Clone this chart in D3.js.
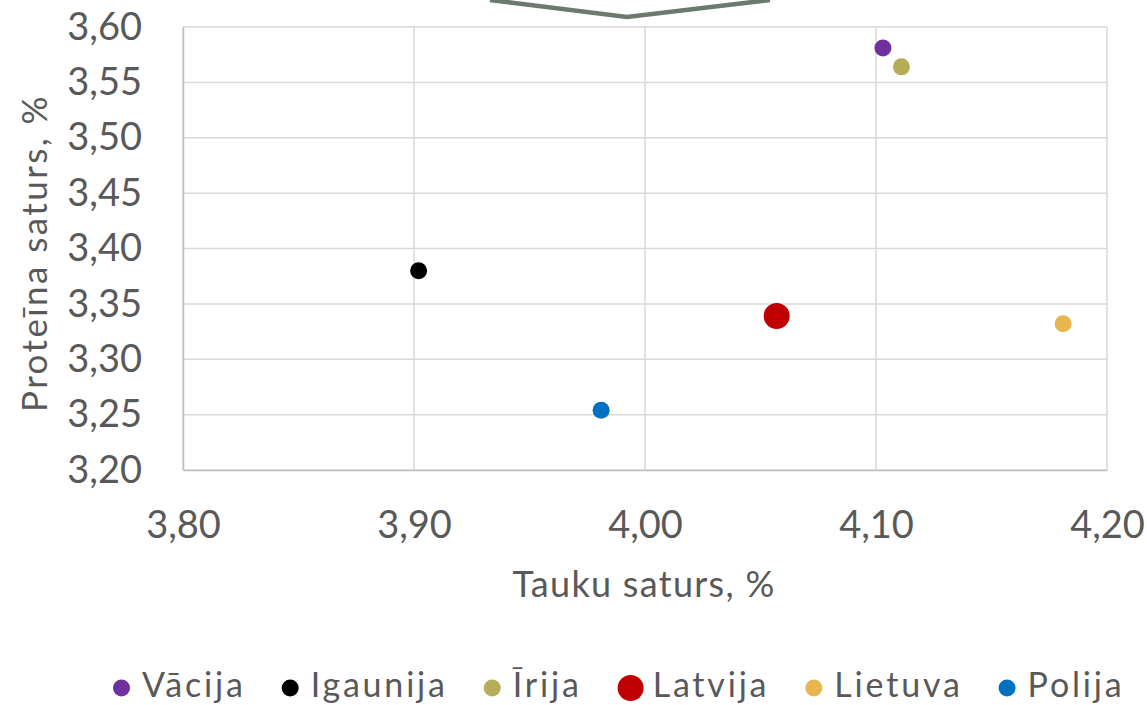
<!DOCTYPE html>
<html>
<head>
<meta charset="utf-8">
<script src="https://cdn.jsdelivr.net/npm/d3@7"></script>
<style>
  body { margin: 0; background: #fff; }
  text { font-family: Lato, "Open Sans", sans-serif; fill: #595959; }
</style>
</head>
<body>
<svg id="chart" width="1147" height="705"></svg>
<script>
// Tauku / proteīna saturs

const countries = ['Vācija', 'Igaunija', 'Īrija', 'Latvija', 'Lietuva', 'Polija']
const fatValues = [4.103, 3.902, 4.111, 4.057, 4.181, 3.981]
const proteinValues = [3.581, 3.380, 3.564, 3.339, 3.332, 3.254]
const colors = ['#7030a0', '#000000', '#b5ad57', '#c00000', '#e8b54f', '#0070c0']
const highlight = 'Latvija'

const xTicks = [3.80, 3.90, 4.00, 4.10, 4.20]
const yTicks = [3.20, 3.25, 3.30, 3.35, 3.40, 3.45, 3.50, 3.55, 3.60]

// callout line poking in from above the plot
const calloutX = [3.9329, 3.9922, 4.0541]
const calloutY = [3.6244, 3.6090, 3.6244]

const LEFT = 183
const RIGHT = 1107
const TOP = 27
const BOTTOM = 470
const R_SMALL = 8.5
const R_BIG = 13

const svg = d3.select('#chart')

const x = d3.scaleLinear().domain([3.80, 4.20]).range([LEFT, RIGHT])
const y = d3.scaleLinear().domain([3.20, 3.60]).range([BOTTOM, TOP])
const fmt = (v) => v.toFixed(2).replace('.', ',')

// grid
svg.append('g')
  .selectAll('line')
  .data(yTicks)
  .join('line')
  .attr('x1', LEFT).attr('x2', RIGHT)
  .attr('y1', (d) => y(d)).attr('y2', (d) => y(d))
  .attr('stroke', '#d9d9d9').attr('stroke-width', 1.5)

svg.append('g')
  .selectAll('line')
  .data(xTicks)
  .join('line')
  .attr('x1', (d) => x(d)).attr('x2', (d) => x(d))
  .attr('y1', TOP).attr('y2', BOTTOM)
  .attr('stroke', '#d9d9d9').attr('stroke-width', 1.5)

// axes
const xAxis = d3.axisBottom(x).tickValues(xTicks).tickFormat(fmt).tickSize(0).tickPadding(41)
const gx = svg.append('g').attr('transform', `translate(0,${BOTTOM})`).call(xAxis)
gx.select('.domain').attr('stroke', '#bfbfbf').attr('stroke-width', 1.5)
gx.selectAll('text').attr('font-size', 38).style('fill', '#595959')

const yAxis = d3.axisLeft(y).tickValues(yTicks).tickFormat(fmt).tickSize(0).tickPadding(41)
const gy = svg.append('g').attr('transform', `translate(${LEFT},0)`).call(yAxis)
gy.select('.domain').attr('stroke', '#bfbfbf').attr('stroke-width', 1.5)
gy.selectAll('text').attr('font-size', 38).style('fill', '#595959')

svg.selectAll('.tick line').remove()
svg.selectAll('.domain').attr('fill', 'none')

// axis titles
svg.append('text')
  .attr('x', 644)
  .attr('y', 597)
  .attr('text-anchor', 'middle')
  .attr('font-size', 36)
  .attr('letter-spacing', 1.3)
  .text('Tauku saturs, %')

svg.append('text')
  .attr('transform', 'translate(47,253) rotate(-90)')
  .attr('text-anchor', 'middle')
  .attr('font-size', 35)
  .attr('letter-spacing', 2.4)
  .text('Proteīna saturs, %')

// callout line
const callout = calloutX.map((d, i) => [x(d), y(calloutY[i])])
svg.append('path')
  .attr('d', d3.line()(callout))
  .attr('fill', 'none')
  .attr('stroke', '#6b7a6e')
  .attr('stroke-width', 4.5)

// points
const points = countries.map((c, i) => ({ name: c, fat: fatValues[i], protein: proteinValues[i], color: colors[i] }))

svg.append('g')
  .selectAll('circle')
  .data(points)
  .join('circle')
  .attr('cx', (d) => x(d.fat))
  .attr('cy', (d) => y(d.protein))
  .attr('r', (d) => d.name === highlight ? R_BIG : R_SMALL)
  .attr('fill', (d) => d.color)

// legend
const legend = svg.append('g').attr('transform', 'translate(0,688)')
let lx = 113
points.forEach((d) => {
  const r = d.name === highlight ? R_BIG : R_SMALL
  const gap = d.name === highlight ? 9 : 12
  legend.append('circle')
    .attr('cx', lx + r).attr('cy', 0)
    .attr('r', r)
    .attr('fill', d.color)
  const t = legend.append('text')
    .attr('x', lx + 2 * r + gap)
    .attr('y', 9)
    .attr('font-size', 34)
    .attr('letter-spacing', 2.8)
    .text(d.name)
  lx += 2 * r + gap + t.node().getComputedTextLength() + 36
})
</script>
</body>
</html>
